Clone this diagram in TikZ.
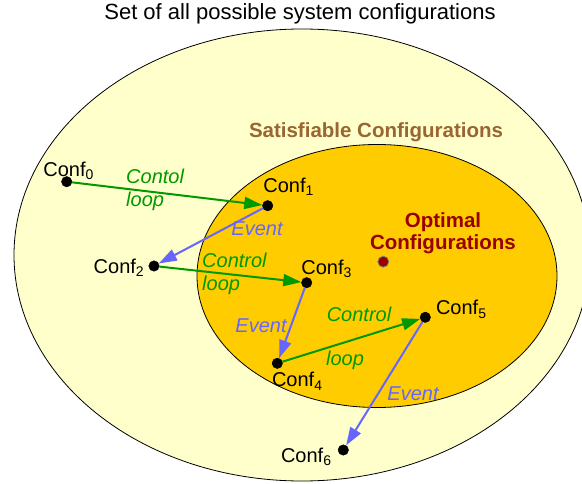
\documentclass[tikz,border=0pt]{standalone}
\usepackage{fontspec}
\setmainfont{Liberation Sans}
\usepackage{tikz}
\usetikzlibrary{arrows.meta,positioning}

\definecolor{outerfill}{HTML}{FFFFCC}
\definecolor{innerfill}{HTML}{FFCC00}
\definecolor{ctrlgreen}{HTML}{009900}
\definecolor{evtblue}{HTML}{6666FF}
\definecolor{satbrown}{HTML}{996633}
\definecolor{optred}{HTML}{990000}

\begin{document}
\begin{tikzpicture}[x=1pt, y=-1pt, node distance=20pt,
    dot/.style={draw, circle, fill=black, inner sep=0pt, minimum size=10.5pt},
    conf/.style={font=\fontsize{20}{22}\selectfont, inner sep=0pt},
    ctrl/.style={draw=ctrlgreen, line width=2pt, -{Triangle[length=18pt,width=12pt]}},
    evt/.style={draw=evtblue, line width=2pt, -{Triangle[length=18pt,width=12pt]}},
    ctrltxt/.style={text=ctrlgreen, font=\fontsize{20}{23}\selectfont\itshape, inner sep=0pt, align=left},
    evttxt/.style={text=evtblue, font=\fontsize{20}{23}\selectfont\itshape, inner sep=0pt}]
    \clip (0,0) rectangle (582,484);
    \fill[white] (0,0) rectangle (582,484);

    \draw[fill=outerfill, line width=0.8pt] (302,255) ellipse [x radius=288pt, y radius=226pt];
    \draw[fill=innerfill, line width=0.8pt] (377,276) ellipse [x radius=180pt, y radius=131.5pt];

    \node[font=\fontsize{22}{26}\selectfont, inner sep=0pt] (all) at (300,14) {Set of all possible system configurations};
    \node[font=\fontsize{20.5}{22}\selectfont\bfseries, text=satbrown, inner sep=0pt] (sat) at (376,132) {Satisfiable Configurations};
    \node[font=\fontsize{20.5}{22.5}\selectfont\bfseries, text=optred, inner sep=0pt, align=center] (optl) at (443,233) {Optimal\\Configurations};

    % configurations
    \node[dot] (c0) at (66.7,181.7) {};
    \node[dot] (c1) at (267.7,205.7) {};
    \node[dot] (c2) at (154,266) {};
    \node[dot] (c3) at (306.7,282.7) {};
    \node[dot] (c4) at (277.3,363.3) {};
    \node[dot] (c5) at (425.3,317.3) {};
    \node[dot] (c6) at (343.3,450) {};
    \node[dot, fill=optred, draw=gray, line width=0.8pt, minimum size=11pt] (opt) at (383.3,261.7) {};

    \node[conf] (l0) [above of=c0, xshift=2pt, yshift=-9pt] {Conf\textsubscript{0}};
    \node[conf] (l1) [right of=c1, xshift=1pt, yshift=19pt] {Conf\textsubscript{1}};
    \node[conf] (l2) [left of=c2, xshift=-15pt, yshift=-2pt] {Conf\textsubscript{2}};
    \node[conf] (l3) [right of=c3, yshift=14pt] {Conf\textsubscript{3}};
    \node[conf] (l4) [right of=c4, yshift=-18pt] {Conf\textsubscript{4}};
    \node[conf] (l5) [right of=c5, xshift=16pt, yshift=8pt] {Conf\textsubscript{5}};
    \node[conf] (l6) [left of=c6, xshift=-17pt, yshift=-7pt] {Conf\textsubscript{6}};

    % transitions
    \draw[ctrl] (c0) -- (c1);
    \draw[evt] (c1) -- (c2);
    \draw[ctrl] (c2) -- (c3);
    \draw[evt] (c3) -- (c4);
    \draw[ctrl] (c4) -- (c5);
    \draw[evt] (c5) -- (c6);

    \node[ctrltxt, anchor=west] (t01) at (126,190) {Contol\\loop};
    \node[evttxt] (t12) at (257,229) {Event};
    \node[ctrltxt, anchor=west] (t23) at (202,274) {Control\\loop};
    \node[evttxt] (t34) at (261,326) {Event};
    \node[ctrltxt] (t45a) at (359,314) {Control};
    \node[ctrltxt] (t45b) at (345,360) {loop};
    \node[evttxt] (t56) at (413,394) {Event};
\end{tikzpicture}
\end{document}
